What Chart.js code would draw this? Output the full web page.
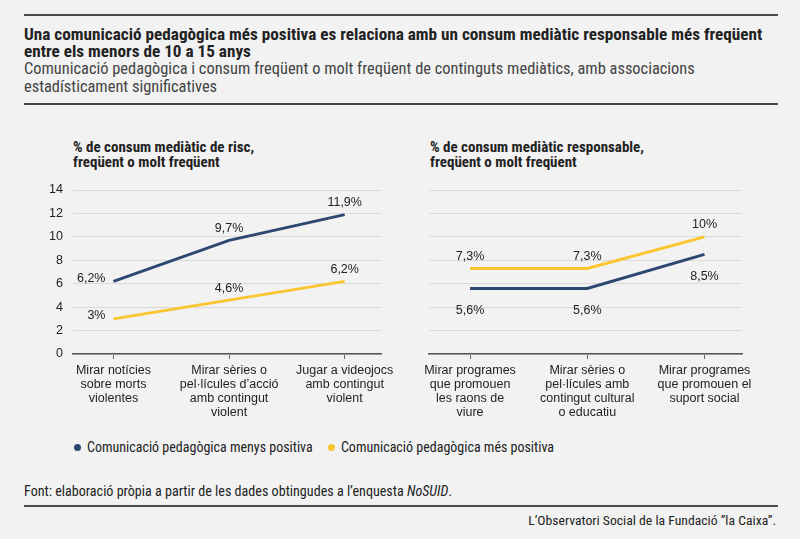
<!DOCTYPE html>
<html>
<head>
<meta charset="utf-8">
<script src="https://cdn.jsdelivr.net/npm/chart.js@4.4.0/dist/chart.umd.min.js"></script>
<style>
  body { margin: 0; background: #f2f2f2; width: 800px; height: 539px; position: relative; overflow: hidden;
         font-family: "Liberation Sans", Arial, sans-serif; color: #222; }
  .rule { position: absolute; left: 24px; width: 754px; height: 2px; background: #4a4a4a; }
  .narrow { font-family: "Liberation Sans Narrow", "Roboto Condensed", sans-serif; }
  #title { position: absolute; left: 24px; top: 26px; font-weight: bold; font-size: 17.2px; line-height: 17px; color: #222; }
  #subtitle { position: absolute; left: 24px; top: 60px; font-size: 16.4px; line-height: 18px; color: #444; }
  .ptitle { position: absolute; top: 140px; font-weight: bold; font-size: 15px; line-height: 15px; color: #222; }
  .box { position: absolute; top: 180px; }
  #legend { position: absolute; left: 74px; top: 439px; font-size: 14px; line-height: 16px; }
  #legend span.dot { display: inline-block; width: 7px; height: 7px; border-radius: 50%; margin-right: 6px; vertical-align: 1px; }
  #legend span.item { margin-right: 12px; }
  #source { position: absolute; left: 24px; top: 483px; font-size: 14.1px; line-height: 16px; }
  #credit { position: absolute; right: 24px; top: 512px; font-size: 13.7px; line-height: 16px; }
</style>
</head>
<body>
<div class="rule" style="top:14px"></div>
<div id="title" class="narrow">Una comunicació pedagògica més positiva es relaciona amb un consum mediàtic responsable més freqüent<br>entre els menors de 10 a 15 anys</div>
<div id="subtitle" class="narrow">Comunicació pedagògica i consum freqüent o molt freqüent de continguts mediàtics, amb associacions<br>estadísticament significatives</div>
<div class="rule" style="top:103px"></div>

<div class="ptitle narrow" style="left:73px">% de consum mediàtic de risc,<br>freqüent o molt freqüent</div>
<div class="ptitle narrow" style="left:430px">% de consum mediàtic responsable,<br>freqüent o molt freqüent</div>

<div class="box" style="left:40px"><canvas id="riskChart" width="360" height="243"></canvas></div>
<div class="box" style="left:400px"><canvas id="goodChart" width="360" height="243"></canvas></div>

<div id="legend" class="narrow">
  <span class="item"><span class="dot" style="background:#2d4870"></span>Comunicació pedagògica menys positiva</span>
  <span class="item"><span class="dot" style="background:#fbc62d"></span>Comunicació pedagògica més positiva</span>
</div>

<div id="source" class="narrow">Font: elaboració pròpia a partir de les dades obtingudes a l’enquesta <i>NoSUID</i>.</div>
<div class="rule" style="top:505px"></div>
<div id="credit" class="narrow">L’Observatori Social de la Fundació ”la Caixa”.</div>

<script>
// categories (each one split into its label lines)
var riskCategories = [
    ['Mirar notícies', 'sobre morts', 'violentes'],
    ['Mirar sèries o', 'pel·lícules d’acció', 'amb contingut', 'violent'],
    ['Jugar a videojocs', 'amb contingut', 'violent']
];
var goodCategories = [
    ['Mirar programes', 'que promouen', 'les raons de', 'viure'],
    ['Mirar sèries o', 'pel·lícules amb', 'contingut cultural', 'o educatiu'],
    ['Mirar programes', 'que promouen el', 'suport social']
];

// series values (%)
var riskLessPositive = [6.2, 9.7, 11.9];
var riskMorePositive = [3, 4.6, 6.2];
var goodLessPositive = [5.6, 5.6, 8.5];
var goodMorePositive = [7.3, 7.3, 10];

// y axis ticks
var yTicks = [0, 2, 4, 6, 8, 10, 12, 14];

var darkBlue = '#2d4870';
var yellow = '#fbc62d';

// draws the "x,x%" labels next to each point
var pointLabels = {
    id: 'pointLabels',
    afterDatasetsDraw: function(chart, args, opts) {
        var ctx = chart.ctx;
        ctx.save();
        ctx.font = '12.5px "Liberation Sans", Arial, sans-serif';
        ctx.fillStyle = '#222';
        ctx.textBaseline = 'middle';
        chart.data.datasets.forEach(function(ds, di) {
            var meta = chart.getDatasetMeta(di);
            meta.data.forEach(function(pt, i) {
                var pos = opts.positions[di][i];
                var text = String(ds.data[i].y).replace('.', ',') + '%';
                var x = pt.x, y = pt.y;
                if (pos === 'left') { ctx.textAlign = 'right'; x -= 8; y -= 3; }
                else if (pos === 'below') { ctx.textAlign = 'center'; y += 22; }
                else { ctx.textAlign = 'center'; y -= 12; }
                ctx.fillText(text, x, y);
            });
        });
        ctx.restore();
    }
};

function toPoints(values) {
    return values.map(function(v, i) { return { x: i, y: v }; });
}

function makeChart(id, categories, less, more, positions, showY, yWidth, padRight) {
    var ctx = document.getElementById(id).getContext('2d');
    return new Chart(ctx, {
        type: 'line',
        data: {
            datasets: [{
                label: 'Comunicació pedagògica menys positiva',
                data: toPoints(less),
                borderColor: darkBlue,
                borderWidth: 3,
                pointRadius: 0,
                fill: false
            }, {
                label: 'Comunicació pedagògica més positiva',
                data: toPoints(more),
                borderColor: yellow,
                borderWidth: 3,
                pointRadius: 0,
                fill: false
            }]
        },
        options: {
            responsive: false,
            animation: false,
            layout: { padding: { top: 10, right: padRight, left: 0, bottom: 0 } },
            plugins: {
                legend: { display: false },
                tooltip: { enabled: false },
                pointLabels: { positions: positions }
            },
            scales: {
                x: {
                    type: 'linear',
                    min: -0.35,
                    max: 2.32,
                    afterBuildTicks: function(scale) {
                        scale.ticks = categories.map(function(c, i) { return { value: i }; });
                    },
                    afterFit: function(scale) { scale.height = 69; },
                    ticks: {
                        autoSkip: false,
                        maxRotation: 0,
                        padding: 5,
                        color: '#222',
                        font: { family: '"Liberation Sans", Arial, sans-serif', size: 12.5, lineHeight: 1.1 },
                        callback: function(value) { return categories[Math.round(value)]; }
                    },
                    grid: { drawOnChartArea: false, drawTicks: true, tickLength: 5, color: '#666' },
                    border: { display: true, color: '#555', width: 1.5 }
                },
                y: {
                    min: yTicks[0],
                    max: yTicks[yTicks.length - 1],
                    afterBuildTicks: function(scale) {
                        scale.ticks = yTicks.map(function(v) { return { value: v }; });
                    },
                    afterFit: function(scale) {
                        scale.width = yWidth;
                        scale.paddingTop = 0;
                        scale.paddingBottom = 0;
                    },
                    ticks: {
                        display: showY,
                        padding: 10,
                        color: '#222',
                        font: { family: '"Liberation Sans", Arial, sans-serif', size: 12.5 }
                    },
                    grid: { color: '#d9d9d9', drawTicks: false },
                    border: { display: false }
                }
            }
        },
        plugins: [pointLabels]
    });
}

makeChart('riskChart', riskCategories, riskLessPositive, riskMorePositive,
    [['left', 'above', 'above'], ['left', 'above', 'above']], true, 33, 14);
makeChart('goodChart', goodCategories, goodLessPositive, goodMorePositive,
    [['below', 'below', 'below'], ['above', 'above', 'above']], false, 29, 18);
</script>
</body>
</html>
